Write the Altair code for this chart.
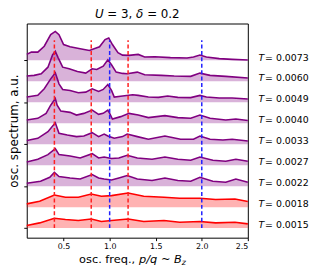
import altair as alt
import pandas as pd

# ---- data (spectrum heights, arbitrary units) ----
T_labels = ["0.0073", "0.0060", "0.0049", "0.0040", "0.0033", "0.0027", "0.0022", "0.0018", "0.0015"]
colors = ["#800080"] * 7 + ["#ff0000"] * 2

x1 = [0.1, 0.15, 0.22, 0.29, 0.36, 0.41, 0.45, 0.5, 0.57, 0.68, 0.78, 0.89, 0.95, 0.99, 1.03, 1.09, 1.14, 1.21, 1.31, 1.38, 1.49, 1.66, 1.84, 1.91, 1.98, 2.05, 2.19, 2.33, 2.5]
y1 = [6, 8.3, 8.3, 14.3, 26, 29.3, 26, 16, 13.7, 11.7, 10, 13.7, 21, 22.7, 16, 7.7, 5.3, 5, 6, 3.3, 3.7, 2.7, 2.3, 3.3, 5.3, 3.3, 1.7, 1, 0.3]

x2 = [0.1, 0.18, 0.257, 0.33, 0.38, 0.41, 0.44, 0.49, 0.56, 0.65, 0.74, 0.81, 0.86, 0.93, 0.98, 1.02, 1.07, 1.14, 1.19, 1.3, 1.38, 1.56, 1.7, 1.88, 1.98, 2.09, 2.26, 2.5]
y2 = [5.3, 6, 7.7, 14.3, 26.7, 30.3, 24, 14.3, 12.7, 10, 8.3, 12.7, 12, 15.3, 21.7, 16.7, 9.3, 8, 7.7, 9.3, 6.7, 6, 5.3, 5, 8.3, 6, 5, 3.3]

x3 = [0.1, 0.22, 0.29, 0.36, 0.41, 0.45, 0.49, 0.57, 0.66, 0.74, 0.81, 0.88, 0.93, 0.98, 1.02, 1.05, 1.14, 1.25, 1.31, 1.42, 1.53, 1.63, 1.74, 1.88, 1.98, 2.05, 2.19, 2.33, 2.5]
y3 = [5.3, 7, 13.7, 23.7, 29.7, 18.7, 13, 12, 9.7, 10.3, 13.7, 11, 13, 18, 12, 5.3, 6.3, 7.7, 7, 5.3, 5, 6.3, 5, 4.7, 7, 5.3, 4.3, 4.3, 3.3]

x4 = [0.1, 0.22, 0.31, 0.36, 0.41, 0.43, 0.47, 0.57, 0.64, 0.72, 0.81, 0.88, 0.93, 0.98, 1.0, 1.03, 1.12, 1.21, 1.31, 1.42, 1.6, 1.74, 1.88, 1.98, 2.09, 2.26, 2.37, 2.5]
y4 = [3.3, 5, 10, 18.3, 25, 18.3, 12.3, 11, 8.3, 10, 13.3, 9, 10, 13.3, 10, 4.3, 6.7, 10, 8.3, 5.7, 7.7, 5.7, 5, 8.3, 5, 3.3, 4.3, 2.7]

x5 = [0.1, 0.22, 0.33, 0.41, 0.45, 0.54, 0.64, 0.72, 0.81, 0.88, 0.94, 0.98, 1.05, 1.14, 1.19, 1.3, 1.42, 1.6, 1.77, 1.91, 1.98, 2.09, 2.23, 2.33, 2.5]
y5 = [3.7, 6, 12.7, 21.7, 11, 9.3, 7.7, 8.3, 11.7, 7.7, 10.3, 8.3, 6, 7.7, 10.3, 7.7, 5, 8.3, 5, 5, 8.3, 5, 4.3, 5, 3.3]

x6 = [0.1, 0.22, 0.33, 0.41, 0.45, 0.57, 0.68, 0.81, 0.88, 0.94, 1.02, 1.1, 1.19, 1.3, 1.46, 1.6, 1.74, 1.88, 1.98, 2.12, 2.26, 2.37, 2.5]
y6 = [3.3, 6, 10.7, 16.7, 10.7, 9.3, 7.3, 11.7, 7.3, 8.3, 6.7, 7.3, 10, 7.3, 6, 8.3, 6, 5, 8.3, 5, 4, 6, 4]

x7 = [0.1, 0.25, 0.35, 0.4, 0.45, 0.57, 0.68, 0.81, 0.88, 0.94, 1.02, 1.1, 1.19, 1.3, 1.46, 1.6, 1.74, 1.88, 1.98, 2.12, 2.26, 2.37, 2.5]
y7 = [3, 5, 9, 14, 9.7, 8.3, 7.3, 11.7, 8.3, 7.3, 6.3, 8.3, 10.7, 7.3, 5.7, 8.3, 5.7, 5, 9, 5, 4, 7.3, 4]

x8 = [0.1, 0.24, 0.4, 0.52, 0.66, 0.8, 0.91, 1.02, 1.2, 1.37, 1.59, 1.76, 1.98, 2.15, 2.36, 2.5]
y8 = [3.3, 6, 12.3, 10, 10, 13.3, 11, 11.7, 14.3, 11, 10, 9, 9, 7.7, 8.3, 5.7]

x9 = [0.1, 0.24, 0.4, 0.52, 0.66, 0.8, 0.91, 1.02, 1.2, 1.37, 1.59, 1.76, 1.98, 2.15, 2.36, 2.5]
y9 = [2.7, 5.3, 10, 8.7, 7.7, 9.3, 6.7, 7.7, 9.3, 6.7, 7.7, 6, 6.7, 5.3, 6, 4.3]

xs = [x1, x2, x3, x4, x5, x6, x7, x8, x9]
ys = [y1, y2, y3, y4, y5, y6, y7, y8, y9]

step = 21.25          # vertical offset between spectra
red_lines = [0.4, 0.8, 1.2]
blue_lines = [1.0, 2.0]
x_ticks = [0.5, 1.0, 1.5, 2.0, 2.5]

W, H = 224, 217
ydom = [-9.7, 207.3]
FONT = "DejaVu Sans"

# approximate DejaVu Sans advance widths (em) for composing mixed-style text
ADV = {"U": .732, " ": .318, "=": .838, "3": .636, ",": .318, "δ": .613, "0": .636,
       ".": .318, "2": .636, "o": .612, "s": .521, "c": .550, "f": .352, "r": .411,
       "e": .615, "q": .635, "p": .635, "/": .337, "~": .838, "B": .686, "z": .525}


def tw(s, fs):
    return sum(ADV.get(ch, .6) for ch in s) * fs


def compose(pieces, x0, y0):
    out = []
    x = x0
    for txt, ital, fs, dy in pieces:
        lead = len(txt) - len(txt.lstrip(" "))
        out.append({"txt": txt.strip(" "), "px": x + lead * ADV[" "] * fs,
                    "py": y0 + dy, "ital": ital, "fs": fs})
        x += tw(txt, fs)
    return out


title_pieces = [("U", True, 12, 0), (" = 3, ", False, 12, 0), ("δ", True, 12, 0), (" = 0.2", False, 12, 0)]
tot = sum(tw(p[0], p[2]) for p in title_pieces)
rows_t = compose(title_pieces, W / 2 - tot / 2, -9.5)

xlab_pieces = [("osc. freq., ", False, 11.5, 0), ("p/q", True, 11.5, 0), (" ~ ", False, 11.5, 0),
               ("B", True, 11.5, 0), ("z", True, 8, 3)]
rows_t += compose(xlab_pieces, 53, H + 23)
tdf = pd.DataFrame(rows_t)

rows = []
n = len(T_labels)
for i, (xx, yy) in enumerate(zip(xs, ys)):
    base = (n - 1 - i) * step
    for a, b in zip(xx, yy):
        rows.append({"x": a, "y": base + b, "base": base, "T": T_labels[i], "order": i})
df = pd.DataFrame(rows)

lab = pd.DataFrame({"T": T_labels,
                    "ypos": [(n - 1 - i) * step + 2.8 for i in range(n)],
                    "txt": ["= " + t for t in T_labels],
                    "t": ["T"] * n})

vl = pd.DataFrame({"x": red_lines + blue_lines,
                   "c": ["#ff2020"] * len(red_lines) + ["#2020ff"] * len(blue_lines),
                   "y0": 0.0, "y1": 190.3})

xs_ = alt.Scale(domain=[0.1, 2.5], nice=False, zero=False)
ys_ = alt.Scale(domain=ydom, nice=False, zero=False)
cscale = alt.Scale(domain=T_labels, range=colors)

xaxis = alt.Axis(values=x_ticks, format=".1f", title=None,
                 labelFontSize=8, tickSize=3, labelColor="black", tickColor="black",
                 domain=False, grid=False, labelFont=FONT)
yaxis = alt.Axis(values=[k * step for k in range(n)], labels=False, tickSize=3,
                 title="osc. spectrum, a.u.", titleFontSize=12, titlePadding=3,
                 tickColor="black", domain=False, grid=False, titleFontWeight="normal",
                 titleFont=FONT, titleColor="black")

base_chart = alt.Chart(df)

area = base_chart.mark_area(fillOpacity=0.3, interpolate="linear").encode(
    x=alt.X("x:Q", scale=xs_, axis=xaxis),
    y=alt.Y("y:Q", scale=ys_, axis=yaxis),
    y2="base:Q",
    color=alt.Color("T:N", scale=cscale, legend=None),
    order="order:Q",
)

line = base_chart.mark_line(strokeWidth=1.6).encode(
    x=alt.X("x:Q", scale=xs_),
    y=alt.Y("y:Q", scale=ys_),
    color=alt.Color("T:N", scale=cscale, legend=None),
)

rules = alt.Chart(vl).mark_rule(strokeDash=[4, 2.5], strokeWidth=1.5).encode(
    x=alt.X("x:Q", scale=xs_),
    y=alt.Y("y0:Q", scale=ys_),
    y2="y1:Q",
    color=alt.Color("c:N", scale=None),
)

tT = alt.Chart(lab).mark_text(align="left", baseline="middle", fontSize=9.5,
                              fontStyle="italic", font=FONT, color="black").encode(
    x=alt.value(W + 10.7), y=alt.Y("ypos:Q", scale=ys_), text="t:N")

tV = alt.Chart(lab).mark_text(align="left", baseline="middle", fontSize=9.5,
                              font=FONT, color="black").encode(
    x=alt.value(W + 17.5), y=alt.Y("ypos:Q", scale=ys_), text="txt:N")

ttl_it = alt.Chart(tdf).transform_filter("datum.ital").mark_text(
    align="left", baseline="middle", fontStyle="italic", font=FONT, color="black").encode(
    x=alt.X("px:Q", scale=None), y=alt.Y("py:Q", scale=None), text="txt:N",
    size=alt.Size("fs:Q", scale=None))
ttl_rm = alt.Chart(tdf).transform_filter("!datum.ital").mark_text(
    align="left", baseline="middle", font=FONT, color="black").encode(
    x=alt.X("px:Q", scale=None), y=alt.Y("py:Q", scale=None), text="txt:N",
    size=alt.Size("fs:Q", scale=None))

chart = alt.layer(area, line, rules, tT, tV, ttl_it, ttl_rm).properties(
    width=W, height=H,
    autosize=alt.AutoSizeParams(type="none"),
    padding={"left": 19, "top": 14, "right": 64, "bottom": 29},
    background="white",
).configure_view(stroke="black", strokeWidth=1)

chart.save("out.html", embed_options={"renderer": "svg", "actions": False})
